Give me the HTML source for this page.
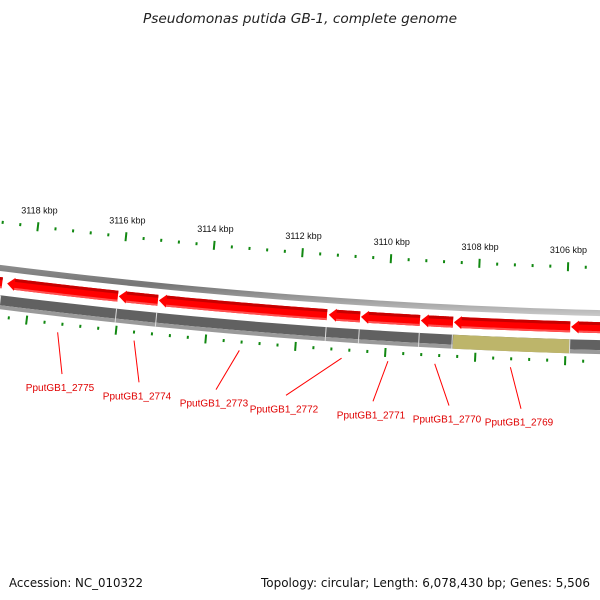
<!DOCTYPE html>
<html><head><meta charset="utf-8"><style>
html,body{margin:0;padding:0;background:#fff;}
svg{display:block;font-family:"Liberation Sans",sans-serif;}
</style></head><body>
<svg id="map" width="600" height="600" viewBox="0 0 600 600" xmlns="http://www.w3.org/2000/svg">
<defs>
<linearGradient id="gline" x1="0" y1="0" x2="0" y2="1"><stop offset="0" stop-color="#9a9a9a"/><stop offset="0.5" stop-color="#777"/><stop offset="1" stop-color="#cfcfcf"/></linearGradient>
</defs>
<text x="143" y="23" font-family="DejaVu Sans, sans-serif" font-size="13" font-style="italic" fill="#222" textLength="314" lengthAdjust="spacingAndGlyphs">Pseudomonas putida GB-1, complete genome</text>
<text x="9" y="587" font-family="DejaVu Sans, sans-serif" font-size="12.5" fill="#111" textLength="134" lengthAdjust="spacingAndGlyphs">Accession: NC_010322</text>
<text x="261" y="587" font-family="DejaVu Sans, sans-serif" font-size="12.5" fill="#111" textLength="329" lengthAdjust="spacingAndGlyphs">Topology: circular; Length: 6,078,430 bp; Genes: 5,506</text>
<g id="layer"></g>
</svg>
<script>
const tickKbp = [3120,3118,3116,3114,3112,3110,3108,3106,3104];
const tickLabels = ["3120 kbp","3118 kbp","3116 kbp","3114 kbp","3112 kbp","3110 kbp","3108 kbp","3106 kbp","3104 kbp"];
const geneNames = ["PputGB1_2776","PputGB1_2775","PputGB1_2774","PputGB1_2773","PputGB1_2772","PputGB1_2771","PputGB1_2770","PputGB1_2769","PputGB1_2768"];
const geneStart = [3118.64,3116.04,3115.14,3111.35,3110.61,3109.27,3108.53,3105.91,3104.6];
const geneEnd   = [3119.6,3118.53,3116.02,3115.12,3111.31,3110.59,3109.25,3108.51,3105.89];
const labeledGenes = [1,2,3,4,5,6,7];
const labelX = [62,139,216,286,373,449,521];
const highlightStart = [3105.91];
const highlightEnd = [3108.51];

const CX=750, CY=-5685, K=0.007443, P0=3118, PHI0=-0.11988;
const NS="http://www.w3.org/2000/svg";
const layer=document.getElementById('layer');
function phi(p){return PHI0+(P0-p)*K;}
function pt(p,r){const a=phi(p);return [CX+r*Math.sin(a),CY+r*Math.cos(a)];}
function mk(tag,attrs){const e=document.createElementNS(NS,tag);for(const k in attrs)e.setAttribute(k,attrs[k]);layer.appendChild(e);return e;}
function band(p1,p2,r1,r2){
  const pts=[];const n=40;
  for(let i=0;i<=n;i++){pts.push(pt(p1+(p2-p1)*i/n,r1));}
  for(let i=n;i>=0;i--){pts.push(pt(p1+(p2-p1)*i/n,r2));}
  return pts.map(q=>q[0].toFixed(2)+','+q[1].toFixed(2)).join(' ');
}
const PMIN=3102, PMAX=3121;
let e=mk('polygon',{points:band(PMIN,PMAX,5997,6003),fill:'url(#gline)'});


e=mk('polygon',{points:band(PMIN,PMAX,6027,6037),fill:'#616161'});


e=mk('polygon',{points:band(PMIN,PMAX,6037,6041),fill:'#9a9a9a'});


for(let i=0;i<highlightStart.length;i++){
  e=mk('polygon',{points:band(highlightStart[i],highlightEnd[i],6027,6041),fill:'#bdb56a'});
  
  
}
for(let i=0;i<geneStart.length;i++){
  const a=pt(geneStart[i],6027),b=pt(geneStart[i],6041);
  e=mk('line',{x1:a[0],y1:a[1],x2:b[0],y2:b[1],stroke:'#ddd','stroke-width':1});
  
  
}
for(let i=0;i<geneStart.length;i++){
  const s=geneStart[i], en=geneEnd[i], head=0.17, hb=en-head;
  const pts=[];const n=30;
  for(let j=0;j<=n;j++)pts.push(pt(s+(hb-s)*j/n,6009));
  pts.push(pt(hb,6008));pts.push(pt(en,6014.5));pts.push(pt(hb,6021));
  for(let j=n;j>=0;j--)pts.push(pt(s+(hb-s)*j/n,6020));
  e=mk('polygon',{points:pts.map(q=>q.join(',')).join(' '),fill:'#ff0000'});
  
  
  e=mk('polygon',{points:band(s,hb,6009,6012),fill:'#c80000'});
  
  
  e=mk('polygon',{points:band(s,hb,6018,6020),fill:'#ff5050'});
  
  
}
for(let t=Math.ceil(PMIN*2.5);t<=PMAX*2.5;t++){
  const p=t/2.5;
  const major=Math.abs(p-Math.round(p))<1e-6 && Math.round(p)%2===0;
  const rows=major?[[5950,5959],[6044,6053]]:[[5953,5956],[6047,6050]];
  rows.forEach((rr,k)=>{
    const a=pt(p,rr[0]),b=pt(p,rr[1]);
    e=mk('line',{x1:a[0],y1:a[1],x2:b[0],y2:b[1],stroke:'#118811','stroke-width':2});
    
    
  });
}
tickKbp.forEach((p,i)=>{
  const q=pt(p,5941);
  e=mk('text',{x:q[0],y:q[1],'text-anchor':'middle','font-size':9,fill:'#111'});
  e.textContent=tickLabels[i];
  
  
});
labeledGenes.forEach((gi,k)=>{
  const mid=(geneStart[gi]+geneEnd[gi])/2;
  const a=pt(mid,6057);
  const lx=labelX[k];
  const ly=CY+Math.sqrt(6098*6098-(lx-CX)*(lx-CX));
  e=mk('line',{x1:a[0],y1:a[1],x2:lx,y2:ly,stroke:'#ff0000','stroke-width':1});
  
  
  e=mk('text',{x:lx-2,y:ly+17,'text-anchor':'middle','font-size':10,fill:'#e00000'});
  e.textContent=geneNames[gi];
  
  
});
</script>
</body></html>
